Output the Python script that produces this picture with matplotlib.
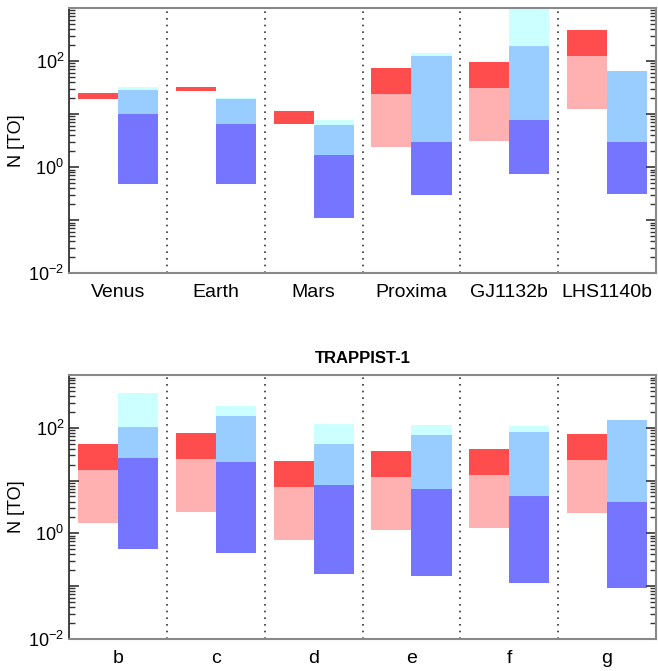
import numpy as np
import matplotlib
matplotlib.use("Agg")
import matplotlib.pyplot as plt
from matplotlib.ticker import LogLocator, NullFormatter

plt.rcParams['font.family'] = ['Liberation Sans', 'DejaVu Sans']
plt.rcParams['mathtext.fontset'] = 'custom'
plt.rcParams['mathtext.rm'] = 'Liberation Sans'
plt.rcParams['mathtext.it'] = 'Liberation Sans:italic'

# --- top panel: solar system + other planets ---
names_top = ["Venus", "Earth", "Mars", "Proxima", "GJ1132b", "LHS1140b"]
red_low_top = [19.1, 27.5, 6.5, 2.4, 3.12, 12.6]
red_mid_top = [19.1, 27.5, 6.5, 23.8, 30.9, 124]
red_high_top = [24.8, 31.8, 11.4, 73.7, 95.8, 385]
blue_low_top = [0.48, 0.48, 0.109, 0.298, 0.743, 0.311]
blue_mid_top = [10.0, 6.45, 1.67, 2.94, 7.78, 2.94]
blue_high_top = [28.3, 19.1, 6.18, 124, 192, 64.7]
blue_max_top = [32.3, 20.0, 7.67, 141.6, 950, 64.7]

# --- bottom panel: TRAPPIST-1 planets ---
names_bot = ["b", "c", "d", "e", "f", "g"]
red_low_bot = [1.58, 2.59, 0.753, 1.16, 1.27, 2.44]
red_mid_bot = [15.8, 25.6, 7.57, 11.7, 12.8, 24.5]
red_high_bot = [49.1, 79.3, 23.4, 36.2, 39.5, 75.9]
blue_low_bot = [0.509, 0.428, 0.167, 0.153, 0.113, 0.0906]
blue_mid_bot = [26.7, 22.4, 8.25, 6.93, 5.11, 3.94]
blue_high_bot = [103, 166, 49.1, 72.7, 82.8, 140]
blue_max_bot = [452, 257, 117, 112, 107, 140]

C_RED = "#ff4d4d"
C_PINK = "#ffb0b0"
C_DBLUE = "#7575ff"
C_LBLUE = "#99ccff"
C_CYAN = "#ccffff"


def draw_panel(ax, names, r_lo, r_mid, r_hi, b_lo, b_mid, b_hi, b_max):
    x = np.arange(len(names))
    w = 0.41
    r_lo, r_mid, r_hi = map(np.array, (r_lo, r_mid, r_hi))
    b_lo, b_mid, b_hi, b_max = map(np.array, (b_lo, b_mid, b_hi, b_max))

    # red bar (left half)
    ax.bar(x, r_mid - r_lo, bottom=r_lo, width=-w, align='edge', color=C_PINK, lw=0)
    ax.bar(x, r_hi - r_mid, bottom=r_mid, width=-w, align='edge', color=C_RED, lw=0)
    # blue bar (right half)
    ax.bar(x, b_mid - b_lo, bottom=b_lo, width=w, align='edge', color=C_DBLUE, lw=0)
    ax.bar(x, b_hi - b_mid, bottom=b_mid, width=w, align='edge', color=C_LBLUE, lw=0)
    ax.bar(x, b_max - b_hi, bottom=b_hi, width=w, align='edge', color=C_CYAN, lw=0)

    for xs in x[:-1] + 0.5:
        ax.axvline(xs, color='#333333', ls=(0, (1, 3)), lw=1.2)

    ax.set_yscale('log')
    ax.set_ylim(1e-2, 1e3)
    ax.set_xlim(-0.5, len(names) - 0.5)
    ax.set_yticks([1e-2, 1e-1, 1, 10, 100, 1000])
    ax.set_yticklabels([r'$10^{-2}$', '', r'$10^{0}$', '', r'$10^{2}$', ''], fontsize=13)
    ax.yaxis.set_minor_locator(LogLocator(base=10, subs=np.arange(2, 10), numticks=30))
    ax.yaxis.set_minor_formatter(NullFormatter())
    ax.set_xticks(x)
    ax.set_xticklabels(names, fontsize=14)
    ax.tick_params(axis='x', length=0, pad=8)
    ax.tick_params(axis='y', which='both', direction='in', right=True, color='#333333')
    ax.tick_params(axis='y', which='major', length=7, width=1.2)
    ax.tick_params(axis='y', which='minor', length=4, width=1)
    ax.set_ylabel("N [TO]", fontsize=13, labelpad=2)
    for s in ('top', 'bottom', 'right'):
        ax.spines[s].set_color('#888888')
        ax.spines[s].set_linewidth(1.5)
    ax.spines['left'].set_color('#222222')
    ax.spines['left'].set_linewidth(1.2)


fig = plt.figure(figsize=(6.58, 6.71), dpi=100)
ax1 = fig.add_axes([0.105, 0.593, 0.892, 0.395])
ax2 = fig.add_axes([0.105, 0.048, 0.892, 0.393])

draw_panel(ax1, names_top, red_low_top, red_mid_top, red_high_top,
           blue_low_top, blue_mid_top, blue_high_top, blue_max_top)
draw_panel(ax2, names_bot, red_low_bot, red_mid_bot, red_high_bot,
           blue_low_bot, blue_mid_bot, blue_high_bot, blue_max_bot)
ax2.set_title("TRAPPIST-1", fontsize=12, fontweight='bold', pad=9)

fig.savefig("out.png", dpi=100)
